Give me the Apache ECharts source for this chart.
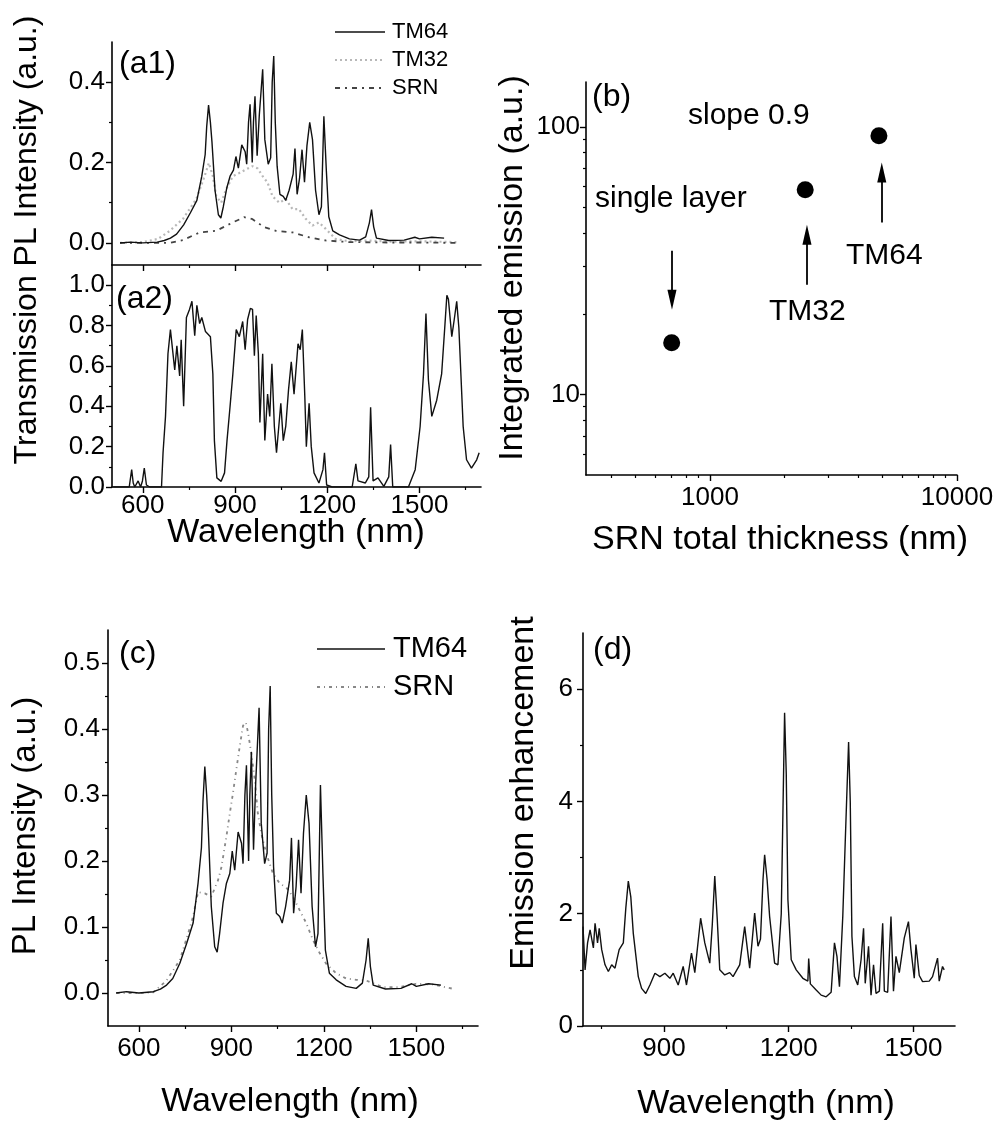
<!DOCTYPE html>
<html>
<head>
<meta charset="utf-8">
<script src="https://cdn.jsdelivr.net/npm/echarts@6/dist/echarts.min.js"></script>
<style>
html,body{margin:0;padding:0;background:#fff;}
#chart{width:1000px;height:1124px;}
</style>
</head>
<body>
<div id="chart"></div>
<script>
// ---------- DATA ----------
// TM64 PL spectrum (used in panels a1 and c)
const tm64Wl = [526,560,600,647,670,690,710,733,755,776,792,803,808,814,820,825,835,846,854,862,873,884,895,903,911,922,933,938,944,949,956,960,965,972,979,985,990,997,1008,1016,1021,1026,1031,1037,1046,1057,1065,1076,1089,1095,1102,1110,1118,1126,1134,1143,1152,1162,1173,1181,1189,1197,1205,1218,1240,1272,1305,1325,1337,1344,1351,1360,1400,1450,1485,1500,1540,1580];
const tm64Int = [0,0.002,0,0.002,0.006,0.012,0.022,0.045,0.075,0.106,0.166,0.22,0.29,0.343,0.3,0.252,0.131,0.07,0.062,0.09,0.136,0.166,0.181,0.215,0.186,0.244,0.227,0.196,0.3,0.345,0.2,0.3,0.365,0.217,0.318,0.38,0.432,0.257,0.196,0.212,0.4,0.465,0.3,0.191,0.121,0.116,0.106,0.131,0.171,0.235,0.121,0.161,0.232,0.151,0.242,0.3,0.257,0.131,0.07,0.09,0.315,0.181,0.065,0.03,0.02,0.01,0.007,0.015,0.05,0.083,0.04,0.012,0.006,0.007,0.014,0.01,0.014,0.012];

// TM32 PL spectrum (panel a1)
const tm32Wl = [526,600,650,688,731,774,801,815,828,839,855,871,893,914,936,957,974,990,1006,1022,1044,1065,1087,1108,1130,1152,1173,1195,1227,1270,1335,1400,1500,1620];
const tm32Int = [0,0.002,0.01,0.03,0.06,0.109,0.166,0.199,0.166,0.116,0.1,0.133,0.166,0.174,0.183,0.191,0.185,0.166,0.15,0.116,0.1,0.109,0.084,0.084,0.06,0.043,0.051,0.035,0.01,0.004,0.006,0.003,0.004,0.002];

// SRN PL spectrum as shown in panel a1
const srnA1Wl = [526,623,688,731,785,839,893,930,957,995,1033,1087,1141,1195,1270,1400,1500,1620];
const srnA1Int = [0,0,0,0.007,0.026,0.03,0.051,0.064,0.059,0.039,0.03,0.026,0.014,0.006,0.002,0.001,0.001,0];

// Transmission spectrum (panel a2)
const transWl = [504,556,564,569,574,585,593,599,605,612,623,661,666,674,682,690,696,704,711,720,725,733,742,752,760,769,776,785,792,804,820,828,833,841,855,866,874,884,893,904,914,925,933,941,950,957,963,969,976,981,990,997,1006,1013,1020,1028,1035,1049,1057,1065,1074,1083,1092,1105,1112,1119,1127,1132,1141,1148,1157,1173,1186,1191,1198,1216,1281,1293,1300,1324,1335,1341,1349,1365,1384,1400,1406,1413,1464,1486,1502,1513,1521,1529,1540,1556,1572,1583,1589,1594,1605,1613,1621,1628,1642,1653,1669,1686,1694];
const transVal = [0,0,0.086,0.02,0,0.03,0,0.03,0.094,0.01,0,0,0.17,0.35,0.66,0.78,0.78,0.58,0.7,0.55,0.73,0.4,0.84,0.88,0.92,0.75,0.9,0.81,0.84,0.77,0.745,0.56,0.23,0.045,0.028,0.07,0.23,0.4,0.56,0.78,0.745,0.82,0.68,0.83,0.885,0.88,0.65,0.85,0.66,0.32,0.66,0.23,0.46,0.35,0.61,0.3,0.17,0.415,0.23,0.3,0.48,0.62,0.46,0.71,0.68,0.78,0.45,0.2,0.415,0.2,0.07,0.02,0.086,0.17,0.01,0,0,0.115,0.03,0.02,0.05,0.395,0.03,0.045,0.003,0.05,0.21,0,0,0.086,0.3,0.56,0.86,0.53,0.35,0.43,0.56,0.81,0.95,0.93,0.745,0.83,0.92,0.79,0.3,0.135,0.094,0.135,0.17];

// SRN PL spectrum as shown in panel c
const srnCWl = [528,600,647,690,733,765,776,792,814,835,857,868,884,895,905,916,927,938,947,954,965,976,986,997,1013,1035,1057,1078,1100,1121,1143,1164,1186,1208,1240,1272,1305,1337,1391,1445,1499,1553,1623];
const srnCInt = [0,0,0.001,0.019,0.05,0.098,0.116,0.153,0.151,0.146,0.171,0.191,0.237,0.272,0.302,0.338,0.373,0.405,0.41,0.395,0.363,0.323,0.272,0.242,0.212,0.181,0.166,0.16,0.146,0.126,0.106,0.081,0.061,0.044,0.03,0.022,0.02,0.019,0.009,0.009,0.014,0.013,0.006];

// Emission enhancement (panel d)
const enhWl = [705,710,716,722,730,734,740,744,750,758,766,774,782,792,802,808,814,820,826,838,846,856,866,878,890,902,914,922,934,946,954,966,974,988,998,1010,1016,1022,1028,1034,1046,1058,1066,1082,1094,1106,1118,1126,1132,1138,1142,1148,1154,1166,1174,1182,1186,1190,1194,1198,1206,1218,1234,1246,1248,1252,1266,1278,1290,1302,1310,1316,1322,1330,1336,1344,1348,1352,1358,1366,1374,1380,1384,1392,1398,1404,1410,1418,1426,1430,1438,1446,1452,1458,1466,1478,1488,1494,1502,1506,1514,1522,1538,1546,1558,1562,1570,1574];
const enhVal = [1.77,1.0,1.48,1.71,1.39,1.83,1.48,1.74,1.36,1.09,0.97,1.09,1.03,1.36,1.48,2.1,2.58,2.3,1.65,0.88,0.67,0.58,0.73,0.94,0.88,0.94,0.85,0.94,0.73,1.06,0.73,1.3,0.95,1.92,1.48,1.12,1.8,2.67,1.9,1.0,0.91,0.95,0.88,1.09,1.77,1.03,2.01,1.42,1.55,2.6,3.05,2.6,1.95,1.12,1.09,2.0,3.8,5.58,4.5,2.25,1.18,1.0,0.85,0.8,1.2,0.75,0.64,0.55,0.52,0.6,1.48,1.24,0.7,1.95,3.3,5.06,4.0,1.6,0.88,0.73,1.18,1.74,0.76,1.42,0.55,1.09,0.58,0.62,1.83,0.62,0.6,1.95,0.62,1.24,0.95,1.57,1.86,1.36,0.85,1.45,0.9,0.79,0.8,0.88,1.21,0.8,1.06,1.0];

// Panel b: integrated emission vs SRN total thickness
const bNames = ['single layer','TM32','TM64'];
const bThickness = [700, 2430, 4830];
const bEmission = [15.6, 58.2, 92.5];
// arrow annotations (data space): x, start y, end y
const arrowX = [702, 2470, 4960];
const arrowFrom = [34.4, 25.7, 43.9];
const arrowTo = [22.6, 39.5, 67.5];

// Tick values
const waveMajor = [600,900,1200,1500];
const waveMinor = [750,1050,1350,1650];
const a1Major = [0,0.2,0.4], a1Minor = [0.1,0.3];
const a2Major = [0,0.2,0.4,0.6,0.8,1.0], a2Minor = [0.1,0.3,0.5,0.7,0.9];
const cMajor = [0,0.1,0.2,0.3,0.4,0.5], cMinor = [0.05,0.15,0.25,0.35,0.45];
const dxMajor = [900,1200,1500], dxMinor = [750,1050,1350];
const dyMajor = [0,2,4,6], dyMinor = [1,3,5];
const bxMajor = [1000,10000], bxMinor = [400,500,600,700,800,900,2000,3000,4000,5000,6000,7000,8000,9000];
const byMajor = [10,100], byMinor = [6,7,8,9,20,30,40,50,60,70,80,90];

// ---------- CHART ----------
const FONT = '"Liberation Sans", Arial, Helvetica, sans-serif';
const zip = (a, b) => a.map((v, i) => [v, b[i]]);
const plain = v => String(Math.round(Number(v)));
const f1 = v => Number(v).toFixed(1);

function mainAxis(gridIndex, opt) {
  return {
    type: opt.type || 'value', gridIndex, min: opt.min, max: opt.max,
    position: opt.position, logBase: 10,
    axisLine: {show: true, onZero: false, lineStyle: {color: '#000', width: 1.6}},
    axisTick: {show: true, customValues: opt.ticks, length: 6, inside: false, lineStyle: {color: '#000', width: 1.4}},
    axisLabel: {show: !!opt.labels, customValues: opt.labels || [], fontSize: opt.fontSize || 26, fontFamily: FONT, color: '#000',
      margin: opt.margin || 8, formatter: opt.formatter || plain},
    splitLine: {show: false}, minorTick: {show: false}, minorSplitLine: {show: false}
  };
}
function minorAxis(gridIndex, opt) {
  return {
    type: opt.type || 'value', gridIndex, min: opt.min, max: opt.max,
    position: opt.position, logBase: 10,
    axisLine: {show: false, onZero: false},
    axisTick: {show: true, customValues: opt.ticks, length: 3, inside: false, lineStyle: {color: '#000', width: 1.2}},
    axisLabel: {show: false},
    splitLine: {show: false}
  };
}

const grids = [
  {left: 112, top: 42, width: 369, height: 223},   // a1
  {left: 112, top: 265, width: 369, height: 222},  // a2
  {left: 586, top: 82, width: 371, height: 393},   // b
  {left: 108, top: 630, width: 370, height: 396},  // c
  {left: 583, top: 633, width: 372, height: 393}   // d
];

const xAxes = [
  mainAxis(0, {min: 500, max: 1700, position: 'bottom', ticks: waveMajor}),
  minorAxis(0, {min: 500, max: 1700, position: 'bottom', ticks: waveMinor}),
  mainAxis(1, {min: 500, max: 1700, position: 'bottom', ticks: waveMajor, labels: waveMajor, margin: 6}),
  minorAxis(1, {min: 500, max: 1700, position: 'bottom', ticks: waveMinor}),
  mainAxis(2, {type: 'log', min: 315, max: 10000, position: 'bottom', ticks: bxMajor, labels: bxMajor, margin: 10}),
  minorAxis(2, {type: 'log', min: 315, max: 10000, position: 'bottom', ticks: bxMinor}),
  mainAxis(3, {min: 500, max: 1700, position: 'bottom', ticks: waveMajor, labels: waveMajor, margin: 10}),
  minorAxis(3, {min: 500, max: 1700, position: 'bottom', ticks: waveMinor}),
  mainAxis(4, {min: 705, max: 1600, position: 'bottom', ticks: dxMajor, labels: dxMajor, margin: 10}),
  minorAxis(4, {min: 705, max: 1600, position: 'bottom', ticks: dxMinor})
];
const yAxes = [
  mainAxis(0, {min: -0.055, max: 0.5, position: 'left', ticks: a1Major, labels: a1Major, formatter: f1, margin: 7}),
  minorAxis(0, {min: -0.055, max: 0.5, position: 'left', ticks: a1Minor}),
  mainAxis(1, {min: 0, max: 1.1, position: 'left', ticks: a2Major, labels: a2Major, formatter: f1, margin: 7}),
  minorAxis(1, {min: 0, max: 1.1, position: 'left', ticks: a2Minor}),
  mainAxis(2, {type: 'log', min: 5, max: 147, position: 'left', ticks: byMajor, labels: byMajor, margin: 6}),
  minorAxis(2, {type: 'log', min: 5, max: 147, position: 'left', ticks: byMinor}),
  mainAxis(3, {min: -0.05, max: 0.55, position: 'left', ticks: cMajor, labels: cMajor, formatter: f1, margin: 8}),
  minorAxis(3, {min: -0.05, max: 0.55, position: 'left', ticks: cMinor}),
  mainAxis(4, {min: 0, max: 7, position: 'left', ticks: dyMajor, labels: dyMajor, margin: 10}),
  minorAxis(4, {min: 0, max: 7, position: 'left', ticks: dyMinor})
];

const lineBase = {type: 'line', symbol: 'none', smooth: false, animation: false, silent: true};
const series = [
  Object.assign({}, lineBase, {name: 'TM32 a1', xAxisIndex: 0, yAxisIndex: 0, data: zip(tm32Wl, tm32Int),
    lineStyle: {color: '#b8b8b8', width: 2.2, type: [2, 3]}}),
  Object.assign({}, lineBase, {name: 'SRN a1', xAxisIndex: 0, yAxisIndex: 0, data: zip(srnA1Wl, srnA1Int),
    lineStyle: {color: '#444', width: 1.8, type: [5, 5, 2, 5]}}),
  Object.assign({}, lineBase, {name: 'TM64 a1', xAxisIndex: 0, yAxisIndex: 0, data: zip(tm64Wl, tm64Int),
    lineStyle: {color: '#111', width: 1.4}}),
  Object.assign({}, lineBase, {name: 'Transmission', xAxisIndex: 2, yAxisIndex: 2, data: zip(transWl, transVal),
    lineStyle: {color: '#111', width: 1.4}}),
  {type: 'scatter', name: 'Integrated', xAxisIndex: 4, yAxisIndex: 4, animation: false, silent: true,
    data: zip(bThickness, bEmission), symbolSize: 17, itemStyle: {color: '#000', opacity: 1},
    markLine: {silent: true, animation: false,
      symbol: ['none', 'path://M5,0 L10,22 L0,22 Z'], symbolSize: 20, symbolKeepAspect: true,
      lineStyle: {color: '#000', width: 1.8, type: 'solid'}, label: {show: false},
      data: arrowX.map((x, i) => [{coord: [x, arrowFrom[i]]}, {coord: [x, arrowTo[i]]}])}},
  Object.assign({}, lineBase, {name: 'SRN c', xAxisIndex: 6, yAxisIndex: 6, data: zip(srnCWl, srnCInt),
    lineStyle: {color: '#888', width: 1.8, type: [3, 4, 1, 4]}}),
  Object.assign({}, lineBase, {name: 'TM64 c', xAxisIndex: 6, yAxisIndex: 6, data: zip(tm64Wl, tm64Int),
    lineStyle: {color: '#111', width: 1.4}}),
  Object.assign({}, lineBase, {name: 'Enhancement', xAxisIndex: 8, yAxisIndex: 8, data: zip(enhWl, enhVal),
    lineStyle: {color: '#111', width: 1.4}})
];

function txt(x, y, text, size) {
  return {type: 'text', x, y, silent: true,
    style: {text, fontSize: size, fontFamily: FONT, fill: '#000', align: 'left', verticalAlign: 'middle'}};
}
function ctxt(x, y, text, size, rot) {
  return {type: 'text', x, y, rotation: rot || 0, silent: true,
    style: {text, fontSize: size, fontFamily: FONT, fill: '#000', align: 'center', verticalAlign: 'middle'}};
}
function legLine(x1, x2, y, style) {
  return {type: 'line', silent: true, shape: {x1, y1: y, x2, y2: y}, style: Object.assign({fill: null}, style)};
}

const graphics = [
  // axis titles
  ctxt(27, 240, 'Transmission PL Intensity (a.u.)', 32, Math.PI / 2),
  ctxt(296, 533, 'Wavelength (nm)', 34),
  ctxt(513, 268, 'Integrated emission (a.u.)', 34, Math.PI / 2),
  ctxt(780, 540, 'SRN total thickness (nm)', 34),
  ctxt(26, 826, 'PL Intensity (a.u.)', 33, Math.PI / 2),
  ctxt(290, 1102, 'Wavelength (nm)', 34),
  ctxt(524, 793, 'Emission enhancement', 34, Math.PI / 2),
  ctxt(766, 1104, 'Wavelength (nm)', 34),
  // panel labels
  txt(119, 64, '(a1)', 32), txt(116, 299, '(a2)', 32), txt(592, 97, '(b)', 32),
  txt(119, 654, '(c)', 32), txt(593, 650, '(d)', 32),
  // panel b annotations
  txt(688, 116, 'slope 0.9', 30), txt(595, 199, 'single layer', 30),
  txt(769, 312, 'TM32', 30), txt(846, 256, 'TM64', 30),
  // legend a1
  legLine(335, 385, 32, {stroke: '#111', lineWidth: 1.4}), txt(392, 32, 'TM64', 22),
  legLine(335, 385, 60, {stroke: '#b8b8b8', lineWidth: 2.2, lineDash: [2, 3]}), txt(392, 60, 'TM32', 22),
  legLine(335, 385, 88, {stroke: '#444', lineWidth: 1.8, lineDash: [5, 5, 2, 5]}), txt(392, 88, 'SRN', 22),
  // legend c
  legLine(317, 385, 649, {stroke: '#111', lineWidth: 1.4}), txt(393, 649, 'TM64', 29),
  legLine(317, 385, 687, {stroke: '#888', lineWidth: 1.8, lineDash: [3, 4, 1, 4]}), txt(393, 687, 'SRN', 29)
];

const chart = echarts.init(document.getElementById('chart'), null, {renderer: 'canvas'});
chart.setOption({
  backgroundColor: '#fff',
  animation: false,
  grid: grids,
  xAxis: xAxes,
  yAxis: yAxes,
  series,
  graphic: graphics
});
</script>
</body>
</html>
